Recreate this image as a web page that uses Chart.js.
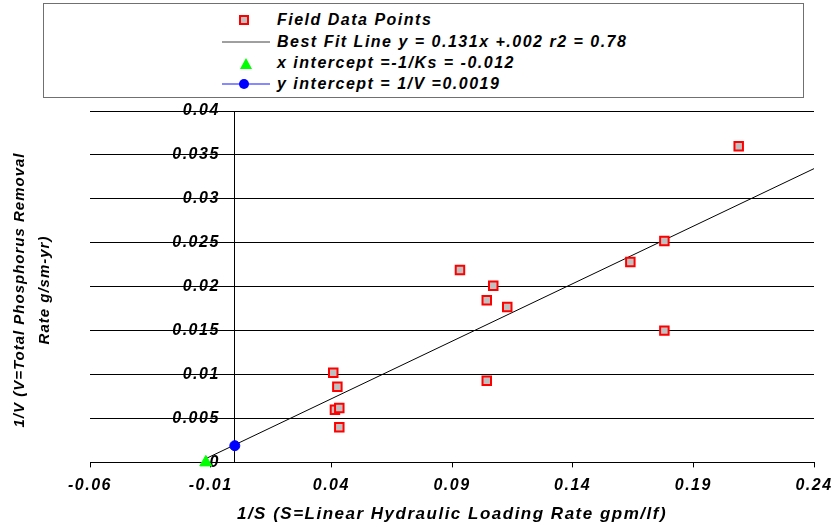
<!DOCTYPE html>
<html>
<head>
<meta charset="utf-8">
<script src="https://cdn.jsdelivr.net/npm/chart.js@4.4.1/dist/chart.umd.min.js"></script>
<style>
  body { margin: 0; background: #fff; }
  #wrap { position: relative; width: 836px; height: 525px; }
  #legend {
    position: absolute; left: 43px; top: 3px; width: 759px; height: 93px;
    border: 1px solid #707070; background: #fff;
    font: italic bold 16px "Liberation Sans", Arial, sans-serif;
    letter-spacing: 1.5px; color: #000;
  }
  #legend .row { position: absolute; left: 233px; height: 20px; line-height: 20px; white-space: nowrap; }
  #legend svg { position: absolute; left: 0; top: 0; }
</style>
</head>
<body>
<div id="wrap">
  <canvas id="chart" width="836" height="525"></canvas>
  <div id="legend">
    <svg width="300" height="93">
      <rect x="196" y="12" width="8" height="8" fill="#c0c0c0" stroke="#ff0000" stroke-width="2"></rect>
      <line x1="178" y1="38" x2="226" y2="38" stroke="#404040" stroke-width="1"></line>
      <polygon points="202,54 208,65 196,65" fill="#00ff00"></polygon>
      <line x1="178" y1="80" x2="226" y2="80" stroke="#6060ff" stroke-width="1.5"></line>
      <circle cx="200" cy="80" r="5" fill="#0000ff"></circle>
    </svg>
    <div class="row" style="top:6px">Field Data Points</div>
    <div class="row" style="top:28px">Best Fit Line y = 0.131x +.002 r2 = 0.78</div>
    <div class="row" style="top:49px">x intercept =-1/Ks = -0.012</div>
    <div class="row" style="top:70px">y intercept = 1/V =0.0019</div>
  </div>
</div>
<script>
    "use strict";

    // field measurements: 1/S and 1/V
    var fieldX = [0.0933, 0.1071, 0.1044, 0.1129, 0.0408, 0.0425, 0.0415, 0.0433, 0.0433, 0.1044, 0.2088, 0.1780, 0.1639, 0.1780];
    var fieldY = [0.0219, 0.0201, 0.01845, 0.0177, 0.0102, 0.0086, 0.0060, 0.0062, 0.0040, 0.0093, 0.0360, 0.0252, 0.0228, 0.0150];

    // regression y = 0.131x + 0.002, drawn between the x intercept and the right edge
    var fitSlope = 0.131;
    var fitIntercept = 0.002;
    var fitRange = [-0.012, 0.24];

    var xIntercept = [-0.012, 0];
    var yIntercept = [0, 0.0019];

    var xTicks = [-0.06, -0.01, 0.04, 0.09, 0.14, 0.19, 0.24];
    var xTickLabels = ["-0.06", "-0.01", "0.04", "0.09", "0.14", "0.19", "0.24"];
    var yTicks = [0, 0.005, 0.01, 0.015, 0.02, 0.025, 0.03, 0.035, 0.04];
    var yTickLabels = ["0", "0.005", "0.01", "0.015", "0.02", "0.025", "0.03", "0.035", "0.04"];

    var xTitle = "1/S (S=Linear Hydraulic Loading Rate gpm/lf)";
    var yTitle = ["1/V (V=Total Phosphorus Removal", "Rate g/sm-yr)"];

    var FONT = "'Liberation Sans', Arial, sans-serif";
    Chart.defaults.font.family = FONT;
    Chart.defaults.color = "#000";

    var fieldPoints = fieldX.map(function (x, i) { return {x: x, y: fieldY[i]}; });
    var fitPoints = fitRange.map(function (x) { return {x: x, y: fitSlope * x + fitIntercept}; });

    // wide letter spacing on every canvas text
    var spacing = {
        id: "spacing",
        beforeUpdate: function (chart) { chart.ctx.letterSpacing = "1.5px"; },
        beforeDraw: function (chart) { chart.ctx.letterSpacing = "1.5px"; }
    };

    // y axis sits at x = 0; move its labels left of the axis line
    var shiftYLabels = {
        id: "shiftYLabels",
        afterLayout: function (chart) {
            var s = chart.scales.y;
            if (s._shifted) return;
            var draw = s.drawLabels;
            s.drawLabels = function (area) {
                var c = this.ctx;
                c.save();
                c.translate(-15, 0);
                draw.call(this, area);
                c.restore();
            };
            s._shifted = true;
        }
    };

    // two-line rotated title on the far left
    var yTitlePlugin = {
        id: "yTitle",
        afterDraw: function (chart) {
            var ctx = chart.ctx;
            ctx.save();
            ctx.letterSpacing = "1px";
            ctx.font = "italic bold 15px " + FONT;
            ctx.fillStyle = "#000";
            ctx.textAlign = "center";
            ctx.textBaseline = "middle";
            ctx.translate(20, 290);
            ctx.rotate(-Math.PI / 2);
            ctx.fillText(yTitle[0], 0, 0);
            ctx.fillText(yTitle[1], 0, 25);
            ctx.restore();
        }
    };

    var ctx = document.getElementById("chart").getContext("2d");
    var chart = new Chart(ctx, {
        type: "scatter",
        data: {
            datasets: [{
                label: "Field Data Points",
                data: fieldPoints,
                pointStyle: "rect",
                pointRadius: 6,
                backgroundColor: "#c0c0c0",
                borderColor: "#ff0000",
                borderWidth: 2
            }, {
                label: "x intercept",
                data: [{x: xIntercept[0], y: xIntercept[1]}],
                pointStyle: "triangle",
                pointRadius: 7,
                backgroundColor: "#00ff00",
                borderColor: "#00ff00",
                borderWidth: 1,
                clip: false
            }, {
                label: "y intercept",
                data: [{x: yIntercept[0], y: yIntercept[1]}],
                pointStyle: "circle",
                pointRadius: 5,
                backgroundColor: "#0000ff",
                borderColor: "#0000ff",
                borderWidth: 1
            }, {
                label: "Best Fit Line",
                data: fitPoints,
                showLine: true,
                pointRadius: 0,
                borderColor: "#000",
                borderWidth: 1
            }]
        },
        options: {
            responsive: false,
            animation: false,
            layout: { padding: { left: 90, right: 22, top: 111, bottom: 0 } },
            plugins: {
                legend: { display: false },
                tooltip: { enabled: false }
            },
            scales: {
                x: {
                    type: "linear",
                    position: "bottom",
                    min: -0.06,
                    max: 0.24,
                    afterBuildTicks: function (scale) {
                        scale.ticks = xTicks.map(function (v) { return {value: v}; });
                    },
                    afterFit: function (scale) {
                        scale.paddingLeft = 0;
                        scale.paddingRight = 0;
                    },
                    ticks: {
                        padding: 9,
                        maxRotation: 0,
                        font: { size: 16, style: "italic", weight: "bold" },
                        callback: function (value, index) { return xTickLabels[index]; }
                    },
                    grid: { drawOnChartArea: false, color: "#000", tickLength: 5 },
                    border: { color: "#000" },
                    title: {
                        display: true,
                        text: xTitle,
                        padding: { top: 0, bottom: 0 },
                        font: { size: 17, style: "italic", weight: "bold" }
                    }
                },
                y: {
                    type: "linear",
                    position: { x: 0 },
                    min: 0,
                    max: 0.04,
                    afterBuildTicks: function (scale) {
                        scale.ticks = yTicks.map(function (v) { return {value: v}; });
                    },
                    ticks: {
                        font: { size: 16, style: "italic", weight: "bold" },
                        callback: function (value, index) { return yTickLabels[index]; }
                    },
                    grid: { color: "#000", lineWidth: 1, tickLength: 8 },
                    border: { color: "#000" }
                }
            }
        },
        plugins: [spacing, shiftYLabels, yTitlePlugin]
    });
</script>
</body>
</html>
